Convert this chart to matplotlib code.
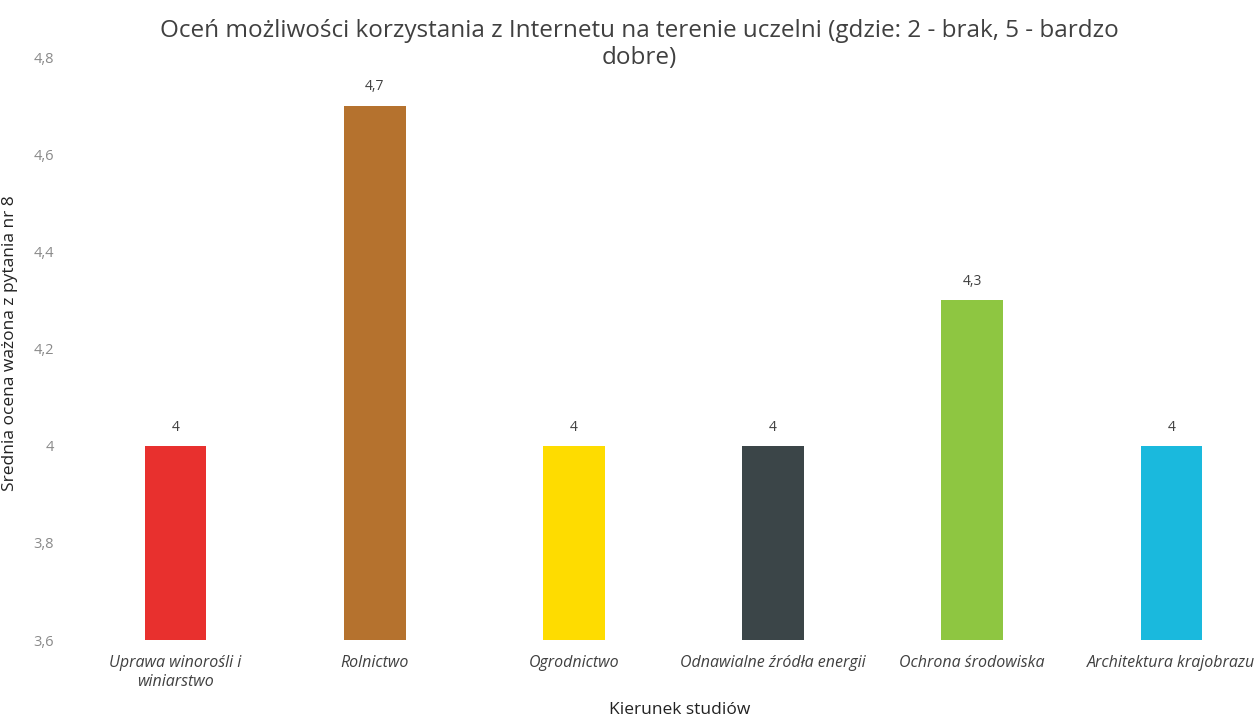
import matplotlib.pyplot as plt
import numpy as np

plt.rcParams['font.family'] = ['Open Sans', 'DejaVu Sans']

# data
kierunki = ['Uprawa winorośli i\nwiniarstwo', 'Rolnictwo', 'Ogrodnictwo',
            'Odnawialne źródła energii', 'Ochrona środowiska', 'Architektura krajobrazu']
oceny = [4.0, 4.7, 4.0, 4.0, 4.3, 4.0]
etykiety = ['4', '4,7', '4', '4', '4,3', '4']
kolory = ['#e8302e', '#b5722e', '#fedc00', '#3b4548', '#8ec641', '#1ab9dd']

y_ticks = [3.6, 3.8, 4.0, 4.2, 4.4, 4.6, 4.8]
y_labels = ['3,6', '3,8', '4', '4,2', '4,4', '4,6', '4,8']

fig = plt.figure(figsize=(12.59, 7.18), dpi=100)
ax = fig.add_axes([0.0604, 0.1086, 0.9396, 0.812])

x = np.arange(len(kierunki))
ax.bar(x, [v - 3.6 for v in oceny], bottom=3.6, width=0.31, color=kolory)

# value labels above bars
for xi, v, lab in zip(x, oceny, etykiety):
    ax.annotate(lab, (xi, v), xytext=(0, 8), textcoords='offset points',
                ha='center', va='bottom', fontsize=10, color='#404040')

ax.set_xlim(-0.5, 5.44)
ax.set_ylim(3.6, 4.8)
ax.set_yticks(y_ticks)
ax.set_yticklabels(y_labels, fontsize=10.5, color='#8a8a8a')
ax.set_xticks(x)
ax.set_xticklabels(kierunki, fontsize=11.5, color='#404040', style='italic')
ax.tick_params(axis='both', length=0)
ax.tick_params(axis='y', pad=16)
ax.tick_params(axis='x', pad=11)
for s in ax.spines.values():
    s.set_visible(False)

ax.set_xlabel('Kierunek studiów', fontsize=12.5, color='#222222')
ax.xaxis.set_label_coords(0.51, -0.106)
ax.set_ylabel('Średnia ocena ważona z pytania nr 8', fontsize=12.5, color='#222222')
ax.yaxis.set_label_coords(-0.049, 0.51)
fig.text(0.508, 0.938, 'Oceń możliwości korzystania z Internetu na terenie uczelni (gdzie: 2 - brak, 5 - bardzo\ndobre)',
         ha='center', va='center', fontsize=17.5, color='#404040', linespacing=1.22)

fig.savefig('out.png', dpi=100)
